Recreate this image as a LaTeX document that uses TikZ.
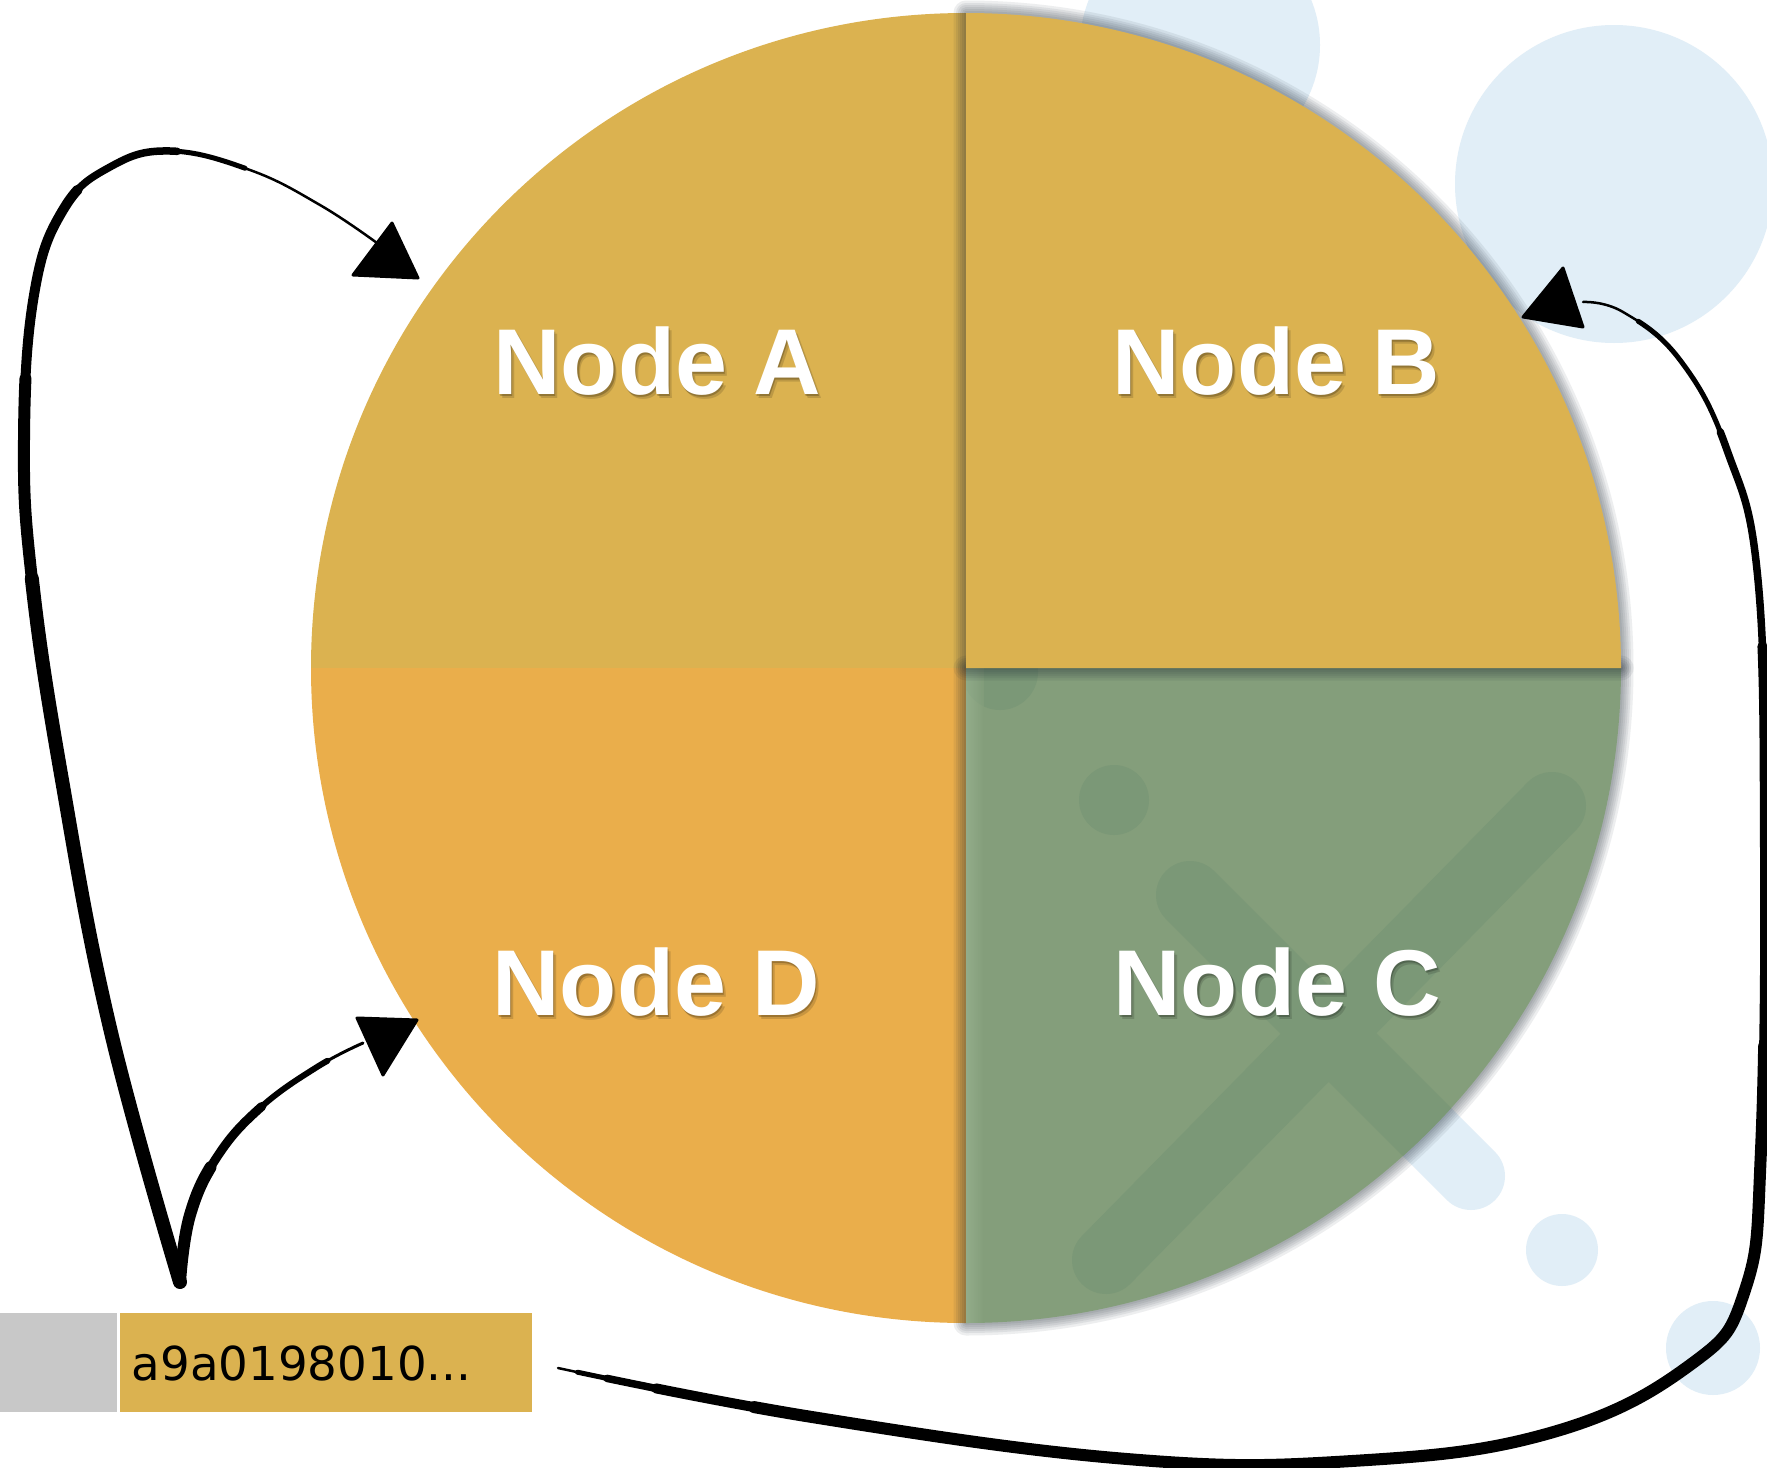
\documentclass[tikz,border=0pt]{standalone}
\usepackage{fontspec}
\setmainfont{Liberation Sans}
\newfontfamily\hashfont{DejaVu Sans}
\definecolor{gold}{HTML}{DBB250}
\definecolor{amber}{HTML}{EAAE4B}
\definecolor{sage}{HTML}{849E7B}
\definecolor{sagedark}{HTML}{7B9877}
\definecolor{sagelight}{HTML}{9DB694}
\definecolor{mist}{HTML}{E1EEF7}
\definecolor{chip}{HTML}{C8C8C8}
\definecolor{umbra}{HTML}{1F2A36}
\tikzset{
  qA/.style={insert path={(966,668) -- (311,668) arc[start angle=180,end angle=270,radius=655] -- cycle}},
  qB/.style={insert path={(966,668) -- (966,13) arc[start angle=270,end angle=360,radius=655] -- cycle}},
  qC/.style={insert path={(966,668) -- (1621,668) arc[start angle=0,end angle=90,radius=655] -- cycle}},
  qD/.style={insert path={(966,668) -- (966,1323) arc[start angle=90,end angle=180,radius=655] -- cycle}},
  softshadow/.style={draw=umbra, draw opacity=0.08, line join=round},
  blob/.style={line width=6.8mm, line cap=round},
  lbl/.style={font=\fontsize{26.6pt}{30pt}\selectfont\bfseries, text=white, inner sep=0pt, anchor=base},
  lblshade/.style={lbl, text=black, text opacity=#1},
  brush/.style={draw=black, line cap=round, line join=round},
  arrowtip/.style={fill=black, draw=black, line width=0.3mm, line join=round},
  cell/.style={inner sep=0pt, minimum height=9.85mm},
  leftpath/.style={insert path={plot[smooth, tension=0.7] coordinates {(outL) (110,1028) (62,780) (32,580) (24,440) (34,295) (63,210) (110,167) (170,151) (250,170) (320,205) (377,243)}}},
  lowpath/.style={insert path={plot[smooth, tension=0.7] coordinates {(outL) (190,1215) (217,1157) (260,1108) (317,1067) (363,1043)}}},
  rightpath/.style={insert path={plot[smooth, tension=0.7] coordinates {(outR) (812,1417) (1127,1459) (1352,1461) (1550,1433) (1690,1365) (1745,1290) (1761,1150) (1765,850) (1758,580) (1727,450) (1680,360) (1623,312) (1583,302)}}},
}
\begin{document}
\begin{tikzpicture}[x=0.1mm,y=-0.1mm]
\useasboundingbox (0,0) rectangle (1767,1468);
\fill[white] (0,0) rectangle (1767,1468);

% pale decoration behind the wheel
\fill[mist] (1200,45) circle[radius=120];
\fill[mist] (1614,184) circle[radius=159];
\fill[mist] (1562,1250) circle[radius=36];
\fill[mist] (1713,1348) circle[radius=47];
\draw[mist, blob] (1190,895) -- (1471,1176);

% the four quarters of the wheel
\fill[gold, qA];
\fill[amber, qD];
\foreach \sw in {0.4,0.8,1.2,1.6,2.0,2.5} \draw[softshadow, line width=\sw mm, qC];
\fill[sage, qC];
\begin{scope}
  \clip[qC];
  \fill[sagedark] (1000,672) circle[radius=38];
  \fill[sagedark] (1114,800) circle[radius=35];
  \draw[sagedark, blob] (1552,806) -- (1106,1260);
  \draw[sagedark, blob] (1190,895) -- (1471,1176);
  \shade[left color=sagelight, right color=sage, opacity=0.6] (966,668) rectangle (984,1323);
\end{scope}
\foreach \sw in {0.4,0.8,1.2,1.6,2.0,2.5} \draw[softshadow, line width=\sw mm, qB];
\fill[gold, qB];

% quarter labels with soft drop shadows
\node[lblshade=0.14] (shA) at (660,398) {Node A};
\node[lblshade=0.22] (shA2) at (658.5,396) {Node A};
\node[lbl] (nodeA) at (657,394) {Node A};
\node[lblshade=0.14] (shB) at (1279,398) {Node B};
\node[lblshade=0.22] (shB2) at (1277.5,396) {Node B};
\node[lbl] (nodeB) at (1276,394) {Node B};
\node[lblshade=0.14] (shD) at (659,1019) {Node D};
\node[lblshade=0.22] (shD2) at (657.5,1017) {Node D};
\node[lbl] (nodeD) at (656,1015) {Node D};
\node[lblshade=0.14] (shC) at (1280,1019) {Node C};
\node[lblshade=0.22] (shC2) at (1278.5,1017) {Node C};
\node[lbl] (nodeC) at (1277,1015) {Node C};

% hash chip
\node[cell, fill=chip, minimum width=11.7mm] (chip) at (58.5,1362.5) {};
\node[cell, fill=gold, minimum width=41.2mm] (hash) at (325.5,1362.5) {};
\node[anchor=base west, inner sep=0pt, font=\hashfont\fontsize{13.3pt}{16pt}\selectfont] (hashtext) at (131,1380) {a9a0198010...};

% connector ends
\coordinate (outL) at (180,1282);
\coordinate (outR) at (558,1368);
\coordinate (tipA) at (418,278);
\coordinate (tipD) at (417,1020);
\coordinate (tipB) at (1523,317);

% hash -> Node A, up the left side (brush stroke thinning towards the tip)
\foreach \lw/\len in {0.25/200, 0.5/130, 0.75/123, 1.0/112, 1.2/92, 1.4/72}
  \draw[brush, line width=\lw mm, dash pattern=on \len mm off 500mm, leftpath];
\fill[arrowtip] (392,223) -- (353,275) -- (tipA) -- cycle;

% hash -> Node D
\foreach \lw/\len in {0.3/60, 0.6/28, 0.9/20, 1.2/12}
  \draw[brush, line width=\lw mm, dash pattern=on \len mm off 500mm, lowpath];
\fill[arrowtip] (357,1018) -- (383,1075) -- (tipD) -- cycle;

% hash -> Node B, along the bottom and up the right side
\foreach \lw/\len/\ph in {0.25/300/1300, 0.5/224/1222, 0.75/207/1202, 1.0/180/1170, 1.2/130/1110}
  \draw[brush, line width=\lw mm, dash pattern=on \len mm off 1000mm, dash phase=\ph mm, rightpath];
\fill[arrowtip] (1563,268) -- (1583,327) -- (tipB) -- cycle;
\end{tikzpicture}
\end{document}
